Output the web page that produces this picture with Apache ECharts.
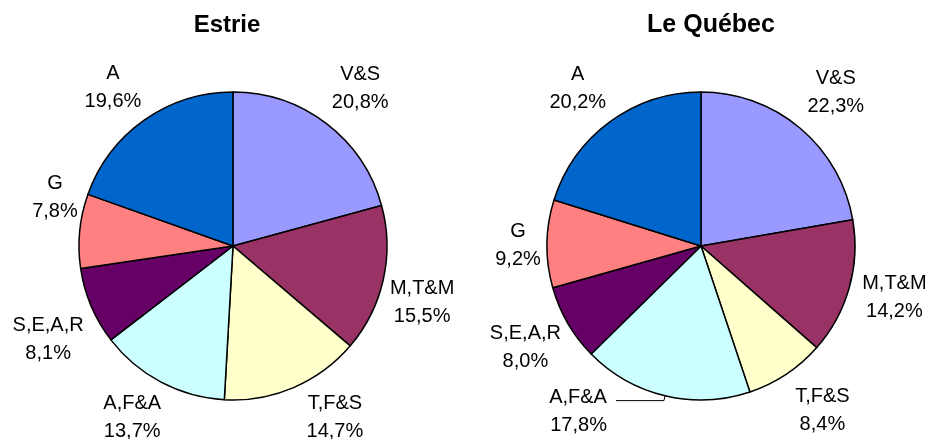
<!DOCTYPE html>
<html>
<head>
<meta charset="utf-8">
<script src="https://cdn.jsdelivr.net/npm/echarts@6/dist/echarts.min.js"></script>
<style>
  html, body { margin: 0; padding: 0; background: #fff; }
  #chart { width: 930px; height: 439px; }
</style>
</head>
<body>
<div id="chart"></div>
<script>
const categories = ['V&S', 'M,T&M', 'T,F&S', 'A,F&A', 'S,E,A,R', 'G', 'A'];
const estrieValues = [20.8, 15.5, 14.7, 13.7, 8.1, 7.8, 19.6];
const quebecValues = [22.3, 14.2, 8.4, 17.8, 8.0, 9.2, 20.2];
const titles = ['Estrie', 'Le Québec'];

const colors = ['#9999FF', '#993366', '#FFFFCC', '#CCFFFF', '#660066', '#FF8080', '#0066CC'];
const FONT = 'Liberation Sans, Arial, sans-serif';
const PIE_R = 154;
const LABEL_R = 200;

// small hand nudges so the labels sit where the original put them
const estrieNudge = [[4, 4], [-9, 12], [22, -15], [-6, -8], [2, 14], [24, -29], [-3, 7]];
const quebecNudge = [[4, 2], [-2, -4], [9, -5], [0, 0], [0, 0], [20, 2], [-3, 6]];

function fmtPct(v) {
  return v.toFixed(1).replace('.', ',') + '%';
}

function buildData(values) {
  return categories.map((name, i) => ({ name, value: values[i] }));
}

const labelStyle = {
  color: '#000',
  fontFamily: FONT,
  fontSize: 20,
  lineHeight: 28,
  formatter: (p) => `${p.name}\n${fmtPct(p.value)}`,
};

// visible pie + transparent ring carrying the labels at LABEL_R
function pieSeries(values, cx, nudge, leaderIndex) {
  const data = buildData(values);
  const visible = {
    type: 'pie',
    silent: true,
    animation: false,
    avoidLabelOverlap: false,
    center: [cx, 246],
    radius: [0, PIE_R],
    startAngle: 90,
    clockwise: true,
    color: colors,
    itemStyle: { borderColor: '#000', borderWidth: 1.5 },
    label: { show: false },
    labelLine: { show: false },
    labelLayout: (p) => (p.dataIndex === leaderIndex ? { dx: -4, dy: 11, hideOverlap: false } : {}),
    data: data.map((d, i) => {
      if (i !== leaderIndex) return d;
      return {
        ...d,
        label: { show: true, position: 'outside', ...labelStyle, align: 'center' },
        labelLine: { show: true, length: 5, length2: 48, lineStyle: { color: '#000', width: 1 } },
      };
    }),
  };
  const ring = {
    type: 'pie',
    silent: true,
    animation: false,
    avoidLabelOverlap: false,
    center: [cx, 246],
    radius: [LABEL_R - 2, LABEL_R + 2],
    startAngle: 90,
    clockwise: true,
    itemStyle: { color: 'transparent', borderWidth: 0 },
    label: { show: true, position: 'inside', ...labelStyle },
    labelLine: { show: false },
    labelLayout: (p) => ({ dx: nudge[p.dataIndex][0], dy: nudge[p.dataIndex][1], hideOverlap: false }),
    data: data.map((d, i) => (i === leaderIndex ? { ...d, label: { show: false } } : d)),
  };
  return [visible, ring];
}

const chart = echarts.init(document.getElementById('chart'), null, { renderer: 'canvas' });
chart.setOption({
  animation: false,
  backgroundColor: '#fff',
  title: [
    { text: titles[0], left: 222, top: 8, textAlign: 'center',
      textStyle: { fontFamily: FONT, fontSize: 24, fontWeight: 'bold', color: '#000' } },
    { text: titles[1], left: 706, top: 8, textAlign: 'center',
      textStyle: { fontFamily: FONT, fontSize: 25, fontWeight: 'bold', color: '#000' } },
  ],
  series: [
    ...pieSeries(estrieValues, 233, estrieNudge, -1),
    ...pieSeries(quebecValues, 701, quebecNudge, 3),
  ],
});
</script>
</body>
</html>
